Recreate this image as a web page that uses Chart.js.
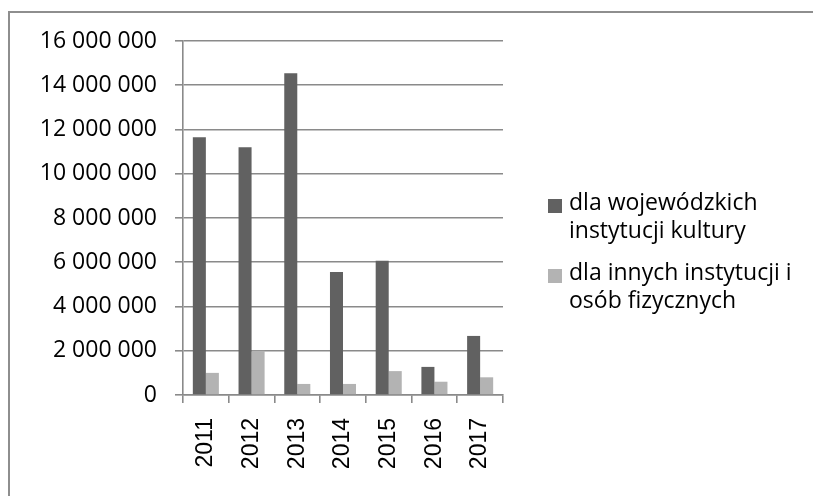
<!DOCTYPE html>
<html lang="pl">
<head>
<meta charset="utf-8">
<title>Dotacje 2011–2017</title>
<script src="https://cdn.jsdelivr.net/npm/chart.js@4/dist/chart.umd.min.js"></script>
<style>
  html, body { margin: 0; padding: 0; background: #fff; }
  #wrap { position: relative; width: 813px; height: 496px; overflow: hidden; }
  #frame {
    position: absolute; left: 8px; top: 11px; right: -4px; bottom: -4px;
    border-top: 2px solid #8e8e8e; border-left: 2px solid #8e8e8e;
  }
  canvas { position: absolute; left: 0; top: 0; }
  .legend-item { position: absolute; left: 548px; width: 260px; }
  .legend-box { position: absolute; left: 0; width: 14px; height: 14px; }
  .legend-text {
    position: absolute; left: 21px; width: 236px;
    font-family: "Open Sans", sans-serif; font-size: 23px; line-height: 28px; color: #000;
  }
</style>
</head>
<body>
<div id="wrap">
  <div id="frame"></div>
  <canvas id="chart" width="813" height="496"></canvas>
  <div id="legend"></div>
</div>
<script>
// Lata i kwoty dotacji (zł)
const years = ['2011', '2012', '2013', '2014', '2015', '2016', '2017'];
const seriesNames = ['dla wojewódzkich instytucji kultury', 'dla innych instytucji i osób fizycznych'];
const wojewodzkie = [11650000, 11200000, 14540000, 5560000, 6070000, 1270000, 2670000];
const inne = [1000000, 2000000, 500000, 500000, 1080000, 600000, 800000];
const yMax = 16000000;
const yStep = 2000000;

const colors = ['#616161', '#b3b3b3'];
const gridColor = '#8a8a8a';

// grupowanie cyfr spacjami: 16 000 000
const fmt = v => String(v).replace(/\B(?=(\d{3})+(?!\d))/g, ' ');

const chart = new Chart(document.getElementById('chart'), {
  type: 'bar',
  data: {
    labels: years,
    datasets: [
      { label: seriesNames[0], data: wojewodzkie, backgroundColor: colors[0] },
      { label: seriesNames[1], data: inne, backgroundColor: colors[1] }
    ]
  },
  options: {
    responsive: false,
    animation: false,
    events: [],
    layout: { padding: { left: 20, top: 41, right: 310, bottom: 0 } },
    datasets: { bar: { categoryPercentage: 0.57, barPercentage: 1.0 } },
    plugins: { legend: { display: false }, tooltip: { enabled: false } },
    scales: {
      x: {
        afterFit: s => { s.height = 101; },
        grid: { display: true, drawOnChartArea: false, drawTicks: true, tickLength: 8, color: gridColor, lineWidth: 1.6, offset: true },
        border: { display: true, color: gridColor, width: 1.6 },
        ticks: {
          minRotation: 90, maxRotation: 90, padding: 15, autoSkip: false,
          color: '#000', font: { family: '"Liberation Sans", Arial, sans-serif', size: 23 }
        }
      },
      y: {
        min: 0, max: yMax,
        afterFit: s => { s.width = 163; },
        grid: { color: gridColor, lineWidth: 1.6, tickLength: 8, drawTicks: true },
        border: { display: true, color: gridColor, width: 1.6 },
        ticks: {
          stepSize: yStep, padding: 18, color: '#000',
          font: { family: '"Open Sans", sans-serif', size: 23 },
          callback: v => fmt(v)
        }
      }
    }
  }
});

// Legenda z zawijanymi etykietami
const legendTops = [187, 257];
const legend = document.getElementById('legend');
chart.data.datasets.forEach((ds, i) => {
  const item = document.createElement('div');
  item.className = 'legend-item';
  item.style.top = legendTops[i] + 'px';
  const box = document.createElement('div');
  box.className = 'legend-box';
  box.style.background = ds.backgroundColor;
  box.style.top = '12px';
  const txt = document.createElement('div');
  txt.className = 'legend-text';
  txt.textContent = ds.label;
  item.appendChild(box);
  item.appendChild(txt);
  legend.appendChild(item);
});
</script>
</body>
</html>
